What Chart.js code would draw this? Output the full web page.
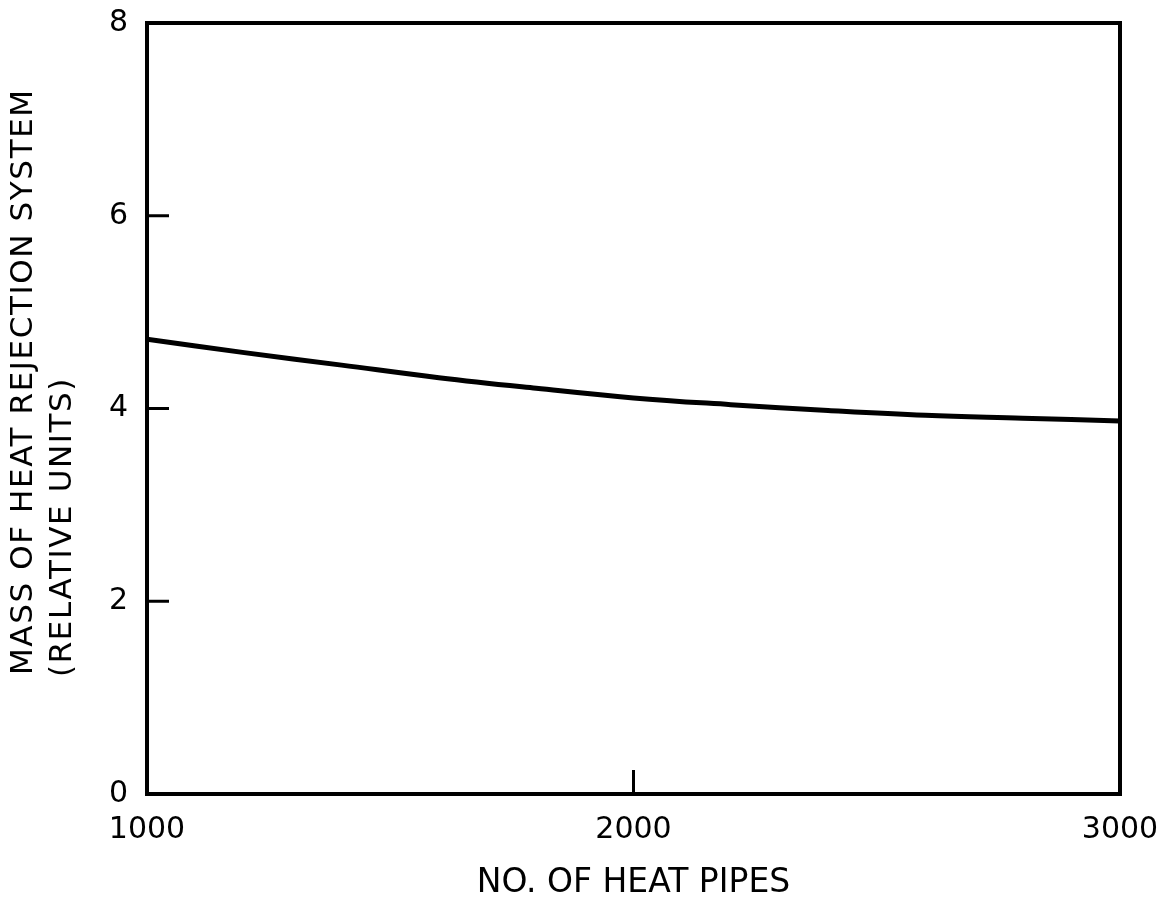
<!DOCTYPE html>
<html>
<head>
<meta charset="utf-8">
<script src="https://cdn.jsdelivr.net/npm/chart.js@4.4.1/dist/chart.umd.min.js"></script>
<style>
  html, body { margin: 0; padding: 0; background: #fff; }
  #wrap { width: 1165px; height: 903px; }
</style>
</head>
<body>
<div id="wrap"><canvas id="myChart" width="1165" height="903"></canvas></div>
<script>
// values
const heatPipes = [1000, 1200, 1400, 1600, 1800, 2000, 2200, 2400, 2600, 2800, 3000];
const massValues = [4.72, 4.58, 4.45, 4.32, 4.21, 4.11, 4.04, 3.98, 3.93, 3.90, 3.87];
const xTicks = [1000, 2000, 3000];
const yTicks = [0, 2, 4, 6, 8];
const xTitle = 'NO. OF HEAT PIPES';
const yTitle = ['MASS OF HEAT REJECTION SYSTEM', '(RELATIVE UNITS)'];

const ink = '#000';
const fontName = '"DejaVu Sans", sans-serif';

// box round the plot plus the short tick marks that point inwards
const framePlugin = {
    id: 'frame',
    afterDraw(chart) {
        const ctx = chart.ctx;
        const a = chart.chartArea;
        const xs = chart.scales.x, ys = chart.scales.y;
        ctx.save();
        ctx.strokeStyle = ink;
        ctx.lineWidth = 3;
        xs.ticks.forEach(t => {
            const px = xs.getPixelForValue(t.value);
            ctx.beginPath();
            ctx.moveTo(px, a.bottom);
            ctx.lineTo(px, a.bottom - 24);
            ctx.stroke();
        });
        ys.ticks.forEach(t => {
            const py = ys.getPixelForValue(t.value);
            ctx.beginPath();
            ctx.moveTo(a.left, py);
            ctx.lineTo(a.left + 22, py);
            ctx.stroke();
        });
        ctx.lineWidth = 4;
        ctx.strokeRect(a.left, a.top, a.right - a.left, a.bottom - a.top);

        // y title, two lines starting from the bottom
        ctx.fillStyle = ink;
        ctx.font = '31px ' + fontName;
        ctx.letterSpacing = '1.6px';
        ctx.textAlign = 'left';
        ctx.textBaseline = 'middle';
        [[24, 675], [63, 677]].forEach((p, i) => {
            ctx.save();
            ctx.translate(p[0], p[1]);
            ctx.rotate(-Math.PI / 2);
            ctx.fillText(yTitle[i], 0, 0);
            ctx.restore();
        });
        ctx.restore();
    }
};

// keep the plot box where the layout padding puts it
function noEdgePadding(s) {
    s.paddingTop = 0;
    s.paddingBottom = 0;
    s.paddingLeft = 0;
    s.paddingRight = 0;
}

const data = {
    datasets: [{
        data: heatPipes.map((x, i) => ({ x: x, y: massValues[i] })),
        borderColor: ink,
        borderWidth: 5,
        pointRadius: 0,
        showLine: true,
        tension: 0.4,
        fill: false
    }]
};

const config = {
    type: 'scatter',
    data: data,
    options: {
        responsive: false,
        animation: false,
        layout: { padding: { top: 23, right: 45, left: 0, bottom: 0 } },
        plugins: {
            legend: { display: false },
            tooltip: { enabled: false }
        },
        scales: {
            x: {
                type: 'linear',
                min: 1000,
                max: 3000,
                afterBuildTicks: s => { s.ticks = xTicks.map(v => ({ value: v })); },
                afterFit: s => { s.height = 109; noEdgePadding(s); },
                grid: { display: false, drawTicks: false },
                border: { display: false },
                ticks: {
                    color: ink,
                    padding: 18,
                    maxRotation: 0,
                    callback: v => String(v),
                    font: { family: fontName, size: 30 }
                },
                title: {
                    display: true,
                    text: xTitle,
                    color: ink,
                    padding: { top: 0, bottom: 3 },
                    font: { family: fontName, size: 33, lineHeight: 1 }
                }
            },
            y: {
                min: 0,
                max: 8,
                afterBuildTicks: s => { s.ticks = yTicks.map(v => ({ value: v })); },
                afterFit: s => { s.width = 147; noEdgePadding(s); },
                grid: { display: false, drawTicks: false },
                border: { display: false },
                ticks: {
                    color: ink,
                    padding: 19,
                    callback: v => String(v),
                    font: { family: fontName, size: 30 }
                }
            }
        }
    },
    plugins: [framePlugin]
};

const myChart = new Chart(document.getElementById('myChart'), config);
</script>
</body>
</html>
